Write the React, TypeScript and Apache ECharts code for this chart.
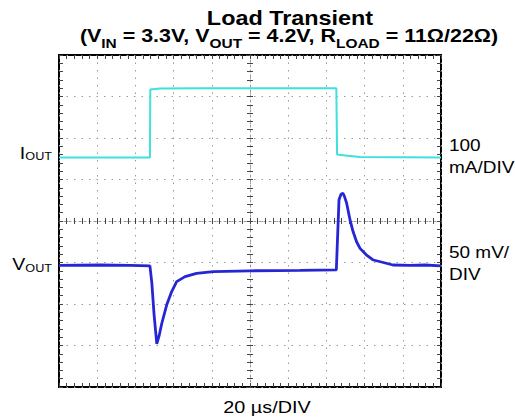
import React, { useEffect, useRef } from "react";
import * as echarts from "echarts";

// Time in divisions (20 µs/DIV), centred: -5 .. 5
const ioutX = [-5, -2.62, -2.61, -2.36, -1.31, 2.26, 2.28, 2.49, 2.88, 5];
// IOUT trace in divisions (100 mA/DIV)
const ioutY = [1.53, 1.53, 3.17, 3.19, 3.2, 3.2, 1.6, 1.58, 1.54, 1.53];

const voutX = [
  -5, -3.93, -3.14, -2.62, -2.57, -2.51, -2.44, -2.38, -2.31, -2.18, -2.05, -1.92,
  -1.7, -1.4, -0.96, 0, 1.31, 2.26, 2.28, 2.33, 2.38, 2.43, 2.47, 2.53, 2.62, 2.7,
  2.79, 2.88, 3.05, 3.23, 3.49, 3.74, 4.19, 4.58, 5,
];
// VOUT trace in divisions (50 mV/DIV)
const voutY = [
  -1.07, -1.06, -1.07, -1.08, -1.49, -2.27, -2.96, -2.77, -2.47, -2.02, -1.7, -1.46,
  -1.34, -1.26, -1.22, -1.2, -1.19, -1.18, -0.7, 0.51, 0.64, 0.67, 0.6, 0.43, 0.02,
  -0.26, -0.5, -0.66, -0.82, -0.94, -1.0, -1.06, -1.07, -1.06, -1.08,
];

const FONT = "'Liberation Sans', Arial, Helvetica, sans-serif";
const SX = 1.15;

export default function App() {
  const ref = useRef<HTMLDivElement>(null);
  useEffect(() => {
    if (!ref.current) return;
    const chart = echarts.init(ref.current, undefined, { renderer: "svg" });

    const tickStyle = { color: "#444", width: 1 };
    const mkX = (extra: any) => ({
      type: "value",
      min: -5,
      max: 5,
      interval: 1,
      axisLabel: { show: false },
      splitLine: { show: false },
      ...extra,
    });
    const mkY = (extra: any) => ({
      type: "value",
      min: -4,
      max: 4,
      interval: 1,
      axisLabel: { show: false },
      splitLine: { show: false },
      ...extra,
    });
    const ticks = (inside: boolean, len: number) => ({
      axisTick: { show: true, inside, length: len, lineStyle: tickStyle },
      minorTick: { show: true, splitNumber: 5, length: len, lineStyle: tickStyle },
    });
    const grid = { color: "#9a9a9a", width: 1, type: [1.5, 6] };
    const center = { color: "#999", width: 1, type: [2, 3] };

    const subRich = (fs: number, sfs: number, pad: number, bold: boolean) => ({
      m: { fontSize: fs, fontFamily: FONT, fontWeight: bold ? "bold" : "normal", fill: "#000", verticalAlign: "top" },
      s: { fontSize: sfs, fontFamily: FONT, fontWeight: bold ? "bold" : "normal", fill: "#000", verticalAlign: "top", padding: [pad, 0, 0, 0] },
    });

    const plain = (text: string, x: number, y: number, fs: number, align: string, bold = false, sx = SX) => ({
      type: "text",
      x,
      y,
      scaleX: sx,
      style: {
        text,
        fontSize: fs,
        fontFamily: FONT,
        fontWeight: bold ? "bold" : "normal",
        fill: "#000",
        textAlign: align,
        textVerticalAlign: "middle",
      },
    });

    chart.setOption({
      animation: false,
      backgroundColor: "#fff",
      grid: { left: 59, top: 55, width: 382, height: 332, show: true, borderColor: "#000", borderWidth: 2, backgroundColor: "transparent" },
      xAxis: [
        mkX({ position: "bottom", axisLine: { show: false, onZero: false }, ...ticks(true, 4), splitLine: { show: true, lineStyle: grid } }),
        mkX({ position: "top", axisLine: { show: false, onZero: false }, ...ticks(true, 4) }),
        mkX({ position: "bottom", axisLine: { show: true, onZero: true, onZeroAxisIndex: 0, lineStyle: center }, ...ticks(true, 3) }),
        mkX({ position: "bottom", axisLine: { show: false, onZero: true, onZeroAxisIndex: 0 }, ...ticks(false, 3) }),
      ],
      yAxis: [
        mkY({ position: "left", axisLine: { show: false, onZero: false }, ...ticks(true, 4), splitLine: { show: true, lineStyle: grid } }),
        mkY({ position: "right", axisLine: { show: false, onZero: false }, ...ticks(true, 4) }),
        mkY({ position: "left", axisLine: { show: true, onZero: true, onZeroAxisIndex: 0, lineStyle: center }, ...ticks(true, 3) }),
        mkY({ position: "left", axisLine: { show: false, onZero: true, onZeroAxisIndex: 0 }, ...ticks(false, 3) }),
      ],
      series: [
        {
          name: "IOUT",
          type: "line",
          xAxisIndex: 0,
          yAxisIndex: 0,
          showSymbol: false,
          data: ioutX.map((x, i) => [x, ioutY[i]]),
          lineStyle: { color: "#3fe0e0", width: 2 },
          z: 5,
        },
        {
          name: "VOUT",
          type: "line",
          xAxisIndex: 0,
          yAxisIndex: 0,
          showSymbol: false,
          data: voutX.map((x, i) => [x, voutY[i]]),
          lineStyle: { color: "#2626d4", width: 2.8 },
          z: 6,
        },
      ],
      graphic: [
        plain("Load Transient", 290, 19, 19.5, "center", true, 1.2),
        {
          type: "text",
          x: 289,
          y: 27,
          scaleX: 1.19,
          style: {
            text: "{m|(V}{s|IN}{m| = 3.3V, V}{s|OUT}{m| = 4.2V, R}{s|LOAD}{m| = 11Ω/22Ω)}",
            rich: subRich(18, 13, 10, true),
            textAlign: "center",
            textVerticalAlign: "top",
          },
        },
        {
          type: "text",
          x: 52,
          y: 144,
          scaleX: SX,
          style: {
            text: "{m|I}{s|OUT}",
            rich: subRich(17, 11, 7, false),
            textAlign: "right",
            textVerticalAlign: "top",
          },
        },
        {
          type: "text",
          x: 52,
          y: 255.6,
          scaleX: SX,
          style: {
            text: "{m|V}{s|OUT}",
            rich: subRich(17, 11, 7, false),
            textAlign: "right",
            textVerticalAlign: "top",
          },
        },
        plain("100", 449, 145, 16.5, "left"),
        plain("mA/DIV", 449, 167.3, 16.5, "left"),
        plain("50 mV/", 449, 252.7, 16.5, "left"),
        plain("DIV", 449, 274.7, 16.5, "left"),
        plain("20 µs/DIV", 267, 407.5, 16.5, "center", false, 1.2),
      ],
    });
    return () => chart.dispose();
  }, []);
  return <div ref={ref} style={{ width: 515, height: 419, position: "absolute", left: 0, top: 0 }} />;
}
